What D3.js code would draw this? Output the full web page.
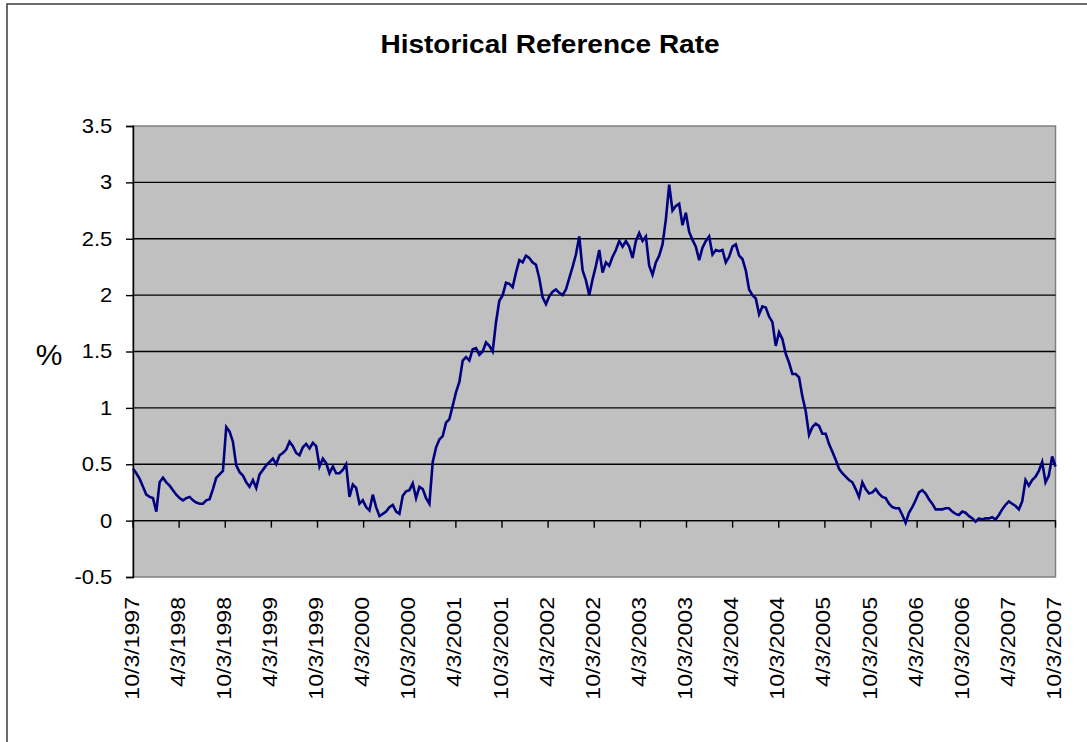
<!DOCTYPE html>
<html>
<head>
<meta charset="utf-8">
<script src="https://cdn.jsdelivr.net/npm/d3@7"></script>
<style>
  html, body { margin: 0; padding: 0; background: #ffffff; }
  svg { display: block; }
  text { font-family: "Liberation Sans", Arial, sans-serif; fill: #000; }
</style>
</head>
<body>
<svg id="chart" width="1087" height="742"></svg>
<script>
// ---- Data ----
const title = "Historical Reference Rate";
const yAxisTitle = "%";
const yTicks = [-0.5, 0, 0.5, 1, 1.5, 2, 2.5, 3, 3.5];
const xTickLabels = [
  "10/3/1997", "4/3/1998", "10/3/1998", "4/3/1999", "10/3/1999", "4/3/2000",
  "10/3/2000", "4/3/2001", "10/3/2001", "4/3/2002", "10/3/2002", "4/3/2003",
  "10/3/2003", "4/3/2004", "10/3/2004", "4/3/2005", "10/3/2005", "4/3/2006",
  "10/3/2006", "4/3/2007", "10/3/2007"
];
// rate values, equally spaced along the category axis (10/3/1997 .. 10/3/2007)
const rates = [
  0.46, 0.42, 0.37, 0.30, 0.23, 0.21, 0.20, 0.08, 0.34, 0.38,
  0.34, 0.31, 0.27, 0.23, 0.20, 0.18, 0.20, 0.21, 0.18, 0.16,
  0.15, 0.15, 0.18, 0.19, 0.28, 0.38, 0.41, 0.44, 0.83, 0.79,
  0.70, 0.49, 0.43, 0.40, 0.34, 0.30, 0.36, 0.29, 0.41, 0.45,
  0.49, 0.52, 0.55, 0.50, 0.58, 0.60, 0.63, 0.70, 0.66, 0.60,
  0.58, 0.65, 0.68, 0.64, 0.69, 0.66, 0.48, 0.55, 0.51, 0.42,
  0.48, 0.42, 0.42, 0.45, 0.50, 0.21, 0.32, 0.29, 0.15, 0.18,
  0.12, 0.09, 0.23, 0.12, 0.04, 0.06, 0.08, 0.12, 0.14, 0.08,
  0.06, 0.22, 0.26, 0.27, 0.33, 0.20, 0.30, 0.28, 0.20, 0.15,
  0.52, 0.65, 0.72, 0.75, 0.87, 0.90, 1.02, 1.14, 1.23, 1.42,
  1.45, 1.42, 1.52, 1.53, 1.47, 1.50, 1.58, 1.55, 1.50, 1.76,
  1.95, 2.00, 2.11, 2.10, 2.07, 2.20, 2.31, 2.29, 2.35, 2.33,
  2.29, 2.27, 2.15, 1.98, 1.92, 1.99, 2.03, 2.05, 2.02, 2.00,
  2.05, 2.15, 2.25, 2.36, 2.52, 2.22, 2.13, 2.00, 2.14, 2.26,
  2.40, 2.20, 2.29, 2.26, 2.34, 2.40, 2.48, 2.43, 2.48, 2.43,
  2.33, 2.48, 2.55, 2.48, 2.52, 2.26, 2.18, 2.29, 2.35, 2.45,
  2.67, 2.98, 2.75, 2.79, 2.81, 2.62, 2.73, 2.56, 2.49, 2.43,
  2.31, 2.42, 2.48, 2.52, 2.36, 2.40, 2.39, 2.40, 2.29, 2.34,
  2.43, 2.45, 2.35, 2.32, 2.22, 2.05, 2.00, 1.97, 1.83, 1.90,
  1.89, 1.81, 1.76, 1.55, 1.67, 1.61, 1.48, 1.40, 1.30, 1.30,
  1.27, 1.10, 0.97, 0.76, 0.83, 0.86, 0.84, 0.77, 0.77, 0.68,
  0.61, 0.54, 0.46, 0.42, 0.39, 0.36, 0.34, 0.28, 0.21, 0.34,
  0.28, 0.24, 0.25, 0.28, 0.24, 0.21, 0.20, 0.15, 0.12, 0.11,
  0.11, 0.05, -0.02, 0.07, 0.12, 0.18, 0.25, 0.27, 0.24, 0.19,
  0.15, 0.10, 0.10, 0.10, 0.11, 0.11, 0.08, 0.06, 0.05, 0.08,
  0.07, 0.04, 0.02, -0.01, 0.02, 0.01, 0.02, 0.02, 0.03, 0.01,
  0.05, 0.10, 0.14, 0.17, 0.15, 0.13, 0.10, 0.17, 0.36, 0.31,
  0.36, 0.39, 0.44, 0.52, 0.34, 0.40, 0.57, 0.48
];

// ---- Layout ----
const plot = { left: 133, right: 1055.5, top: 126, bottom: 577 };

const svg = d3.select("#chart");

// outer chart-area border (right/bottom edges lie beyond the picture)
svg.append("rect")
  .attr("x", 7).attr("y", 4)
  .attr("width", 1200).attr("height", 1000)
  .attr("fill", "#ffffff")
  .attr("stroke", "#3a3a3a").attr("stroke-width", 1.5);

const y = d3.scaleLinear().domain([-0.5, 3.5]).range([plot.bottom, plot.top]);
const x = d3.scaleLinear().domain([0, rates.length - 1]).range([plot.left, plot.right]);
const tickIndex = d3.scaleLinear().domain([0, xTickLabels.length - 1]).range([0, rates.length - 1]);

// plot area
svg.append("rect")
  .attr("x", plot.left).attr("y", plot.top)
  .attr("width", plot.right - plot.left).attr("height", plot.bottom - plot.top)
  .attr("fill", "#c0c0c0")
  .attr("stroke", "#808080").attr("stroke-width", 1.5);

// gridlines
svg.append("g").selectAll("line")
  .data(yTicks.filter(d => d > -0.5 && d < 3.5))
  .join("line")
  .attr("x1", plot.left).attr("x2", plot.right)
  .attr("y1", d => y(d)).attr("y2", d => y(d))
  .attr("stroke", "#000").attr("stroke-width", 1.4);

// y axis
const yAxis = svg.append("g")
  .attr("transform", `translate(${plot.left},0)`)
  .call(d3.axisLeft(y).tickValues(yTicks).tickSize(7).tickPadding(13).tickFormat(d => String(d)));
yAxis.select(".domain").attr("stroke", "#000").attr("stroke-width", 1.4);
yAxis.selectAll(".tick line").attr("stroke", "#000").attr("stroke-width", 1.4);
yAxis.selectAll(".tick text")
  .attr("font-family", "Liberation Sans, Arial, sans-serif")
  .attr("font-size", 20).attr("fill", "#000")
  .attr("transform", "translate(-13,0) scale(1.1,1) translate(13,0)");

// x axis at zero with downward ticks
const xAxisG = svg.append("g").attr("transform", `translate(0,${y(0)})`);
xAxisG.append("line")
  .attr("x1", plot.left).attr("x2", plot.right)
  .attr("y1", 0).attr("y2", 0)
  .attr("stroke", "#000").attr("stroke-width", 1.4);
xAxisG.selectAll("line.tick")
  .data(xTickLabels)
  .join("line").attr("class", "tick")
  .attr("x1", (d, i) => x(tickIndex(i))).attr("x2", (d, i) => x(tickIndex(i)))
  .attr("y1", 0).attr("y2", 7)
  .attr("stroke", "#000").attr("stroke-width", 1.4);

// x tick labels (rotated, at bottom)
svg.append("g").selectAll("text")
  .data(xTickLabels)
  .join("text")
  .attr("transform", (d, i) => `translate(${x(tickIndex(i)) + 5.5},597) rotate(-90) scale(1.1,1)`)
  .attr("text-anchor", "end")
  .attr("font-size", 21)
  .text(d => d);

// line
svg.append("path")
  .datum(rates)
  .attr("fill", "none")
  .attr("stroke", "#000080")
  .attr("stroke-width", 2.6)
  .attr("stroke-linejoin", "miter")
  .attr("d", d3.line().x((d, i) => x(i)).y(d => y(d)));

// title
svg.append("text")
  .attr("transform", "translate(550,53) scale(1.12,1)")
  .attr("text-anchor", "middle")
  .attr("font-size", 25).attr("font-weight", "bold")
  .text(title);

// y axis title
svg.append("text")
  .attr("x", 49).attr("y", 365)
  .attr("text-anchor", "middle")
  .attr("font-size", 30)
  .text(yAxisTitle);
</script>
</body>
</html>
